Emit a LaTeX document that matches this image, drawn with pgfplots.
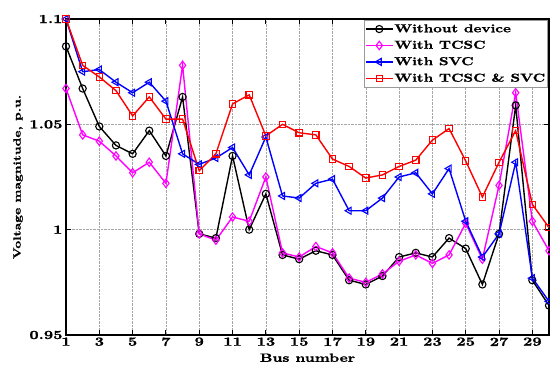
\documentclass[border=0pt]{standalone}
\usepackage{fontspec}
\setmainfont{lmroman10}[Extension=.otf, UprightFont=*-regular, BoldFont=*-bold, FakeStretch=1.3, BoldFeatures={FakeBold=1.2}]
\usepackage{pgfplots}
\pgfplotsset{compat=1.18}
\definecolor{mag}{RGB}{255,0,255}
\definecolor{bl}{RGB}{0,0,255}
\definecolor{rd}{RGB}{255,0,0}
\begin{document}
\begin{tikzpicture}
\useasboundingbox (-66bp,-30bp) rectangle (484bp,335bp);
\begin{axis}[
  at={(0,0)}, anchor=south west,
  scale only axis, width=483bp, height=316bp,
  xmin=1, xmax=30, ymin=0.95, ymax=1.1,
  clip=false,
  axis line style={line width=1.3bp},
  tick align=inside, major tick length=5bp,
  tick style={line width=0.9bp, black},
  xtick={1,3,5,7,9,11,13,15,17,19,21,23,25,27,29},
  xticklabels={1,3,5,7,9,11,13,15,17,19,21,23,25,27,29},
  ytick={0.95,1,1.05,1.1},
  yticklabels={0.95,1,1.05,1.1},
  ticklabel style={font=\fontsize{12.5}{13}\selectfont\bfseries},
  xticklabel style={yshift=1bp},
  grid=major,
  grid style={densely dotted, gray!70, line width=0.5bp},
  xlabel={Bus number},
  xlabel style={font=\fontsize{12}{13}\selectfont\bfseries, at={(axis description cs:0.5,0)}, anchor=north, yshift=-15bp},
  ylabel={Voltage magnitude, p.u.},
  ylabel style={font=\fontsize{10.5}{12}\selectfont\bfseries, at={(axis description cs:0,0.5)}, anchor=center, yshift=48bp},
  legend style={at={(1,1)}, anchor=north east, xshift=-1.5bp, yshift=-1bp,
    font=\fontsize{11.6}{13}\selectfont\bfseries, draw=gray!80, line width=0.6bp,
    inner xsep=1bp, inner ysep=2bp, row sep=2.9bp, cells={anchor=west},
    nodes={inner xsep=1bp}},
  legend image code/.code={\draw[mark repeat=2,mark phase=2] plot coordinates {(0cm,0cm)(0.47cm,0cm)(0.94cm,0cm)};},
  every axis plot/.append style={line width=1.4bp, mark size=3.6bp},
]
\addplot[black, mark=o, mark options={solid, fill=none, line width=1.1bp}] coordinates {
(1,1.087)(2,1.067)(3,1.049)(4,1.040)(5,1.036)(6,1.047)(7,1.035)(8,1.063)(9,0.998)(10,0.996)
(11,1.035)(12,1.000)(13,1.017)(14,0.988)(15,0.986)(16,0.990)(17,0.988)(18,0.976)(19,0.974)(20,0.978)
(21,0.987)(22,0.989)(23,0.987)(24,0.996)(25,0.991)(26,0.974)(27,0.998)(28,1.059)(29,0.976)(30,0.964)};
\addlegendentry{Without device}
\addplot[mag, mark=diamond, mark size=4.2bp, mark options={solid, fill=none, line width=1.1bp}] coordinates {
(1,1.067)(2,1.045)(3,1.042)(4,1.035)(5,1.027)(6,1.032)(7,1.022)(8,1.078)(9,0.998)(10,0.995)
(11,1.006)(12,1.004)(13,1.025)(14,0.989)(15,0.987)(16,0.992)(17,0.989)(18,0.977)(19,0.975)(20,0.979)
(21,0.985)(22,0.988)(23,0.984)(24,0.988)(25,1.003)(26,0.986)(27,1.021)(28,1.065)(29,1.004)(30,0.990)};
\addlegendentry{With TCSC}
\addplot[bl, mark=triangle, mark size=4bp, mark options={solid, fill=none, line width=1.1bp, rotate=90}] coordinates {
(1,1.100)(2,1.075)(3,1.076)(4,1.070)(5,1.065)(6,1.070)(7,1.061)(8,1.036)(9,1.031)(10,1.034)
(11,1.039)(12,1.026)(13,1.044)(14,1.016)(15,1.015)(16,1.022)(17,1.024)(18,1.009)(19,1.009)(20,1.015)
(21,1.025)(22,1.027)(23,1.017)(24,1.029)(25,1.004)(26,0.987)(27,0.998)(28,1.032)(29,0.977)(30,0.966)};
\addlegendentry{With SVC}
\addplot[rd, mark=square, mark size=3.2bp, mark options={solid, fill=none, line width=1.1bp}] coordinates {
(1,1.100)(2,1.078)(3,1.0725)(4,1.066)(5,1.054)(6,1.063)(7,1.0525)(8,1.0525)(9,1.028)(10,1.036)
(11,1.0597)(12,1.064)(13,1.0445)(14,1.050)(15,1.046)(16,1.045)(17,1.0335)(18,1.030)(19,1.0245)(20,1.026)
(21,1.030)(22,1.033)(23,1.0425)(24,1.048)(25,1.0326)(26,1.0155)(27,1.032)(28,1.047)(29,1.012)(30,1.001)};
\addlegendentry{With TCSC \& SVC}
\end{axis}
\end{tikzpicture}
\end{document}
